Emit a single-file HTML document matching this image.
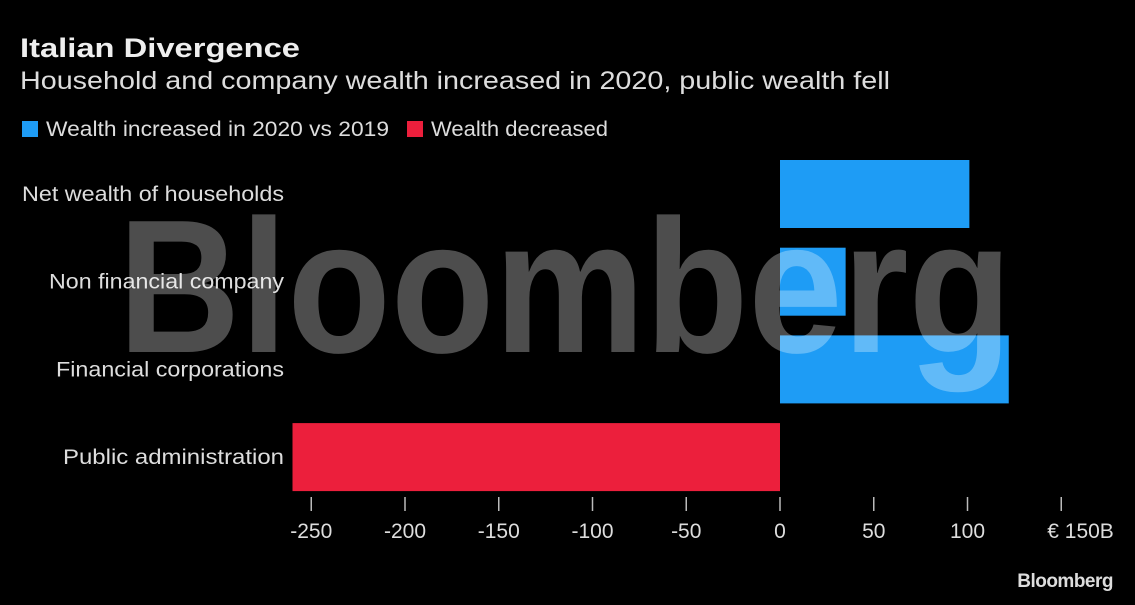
<!DOCTYPE html>
<html><head><meta charset="utf-8"><style>
body{margin:0;background:#000;width:1135px;height:600px;overflow:hidden;font-family:"Liberation Sans",sans-serif;color:#ddd}
</style></head><body>
<svg width="1135" height="600" xmlns="http://www.w3.org/2000/svg">
<text x="20" y="57" font-size="27" font-weight="bold" fill="#eee" textLength="280" lengthAdjust="spacingAndGlyphs">Italian Divergence</text>
<text x="20" y="89" font-size="25" fill="#ddd" textLength="870" lengthAdjust="spacingAndGlyphs">Household and company wealth increased in 2020, public wealth fell</text>
<rect x="22" y="121" width="16" height="16" fill="#1e9cf5"/>
<text x="46" y="136" font-size="21" fill="#ddd" textLength="343" lengthAdjust="spacingAndGlyphs">Wealth increased in 2020 vs 2019</text>
<rect x="407" y="121" width="16" height="16" fill="#ec1f3c"/>
<text x="431" y="136" font-size="21" fill="#ddd" textLength="177" lengthAdjust="spacingAndGlyphs">Wealth decreased</text>
<g id="bars"></g>
<g id="axis"></g>
<text x="118" y="352" font-size="190" font-weight="bold" fill="rgba(255,255,255,0.3)" textLength="894" lengthAdjust="spacingAndGlyphs">Bloomberg</text>
<text x="1113" y="587" font-size="19" font-weight="bold" fill="#ddd" text-anchor="end" letter-spacing="-0.5">Bloomberg</text>
</svg>
<script>
const categories=["Net wealth of households","Non financial company","Financial corporations","Public administration"];
const values=[101,35,122,-260];
const ticks=[-250,-200,-150,-100,-50,0,50,100,150];
const tickLabels=["-250","-200","-150","-100","-50","0","50","100","€ 150B"];
const labelWidths=[262,235,228,221];
const NS="http://www.w3.org/2000/svg";
const x=v=>780+v*1.875;
const yTop=i=>160+i*87.7;
const bh=68;
const bars=document.getElementById('bars'),axis=document.getElementById('axis');
categories.forEach((c,i)=>{
 const v=values[i];
 const r=document.createElementNS(NS,'rect');
 r.setAttribute('x',Math.min(x(0),x(v)));r.setAttribute('y',yTop(i));
 r.setAttribute('width',Math.abs(x(v)-x(0)));r.setAttribute('height',bh);
 r.setAttribute('fill',v>=0?'#1e9cf5':'#ec1f3c');
 
 
 bars.appendChild(r);
 const t=document.createElementNS(NS,'text');
 t.setAttribute('x',284-labelWidths[i]);t.setAttribute('y',yTop(i)+bh/2+7);
 t.setAttribute('textLength',labelWidths[i]);t.setAttribute('lengthAdjust','spacingAndGlyphs');
 t.setAttribute('font-size','21');t.setAttribute('fill','#ddd');
 t.textContent=c;
 
 
 bars.appendChild(t);
});
ticks.forEach((v,i)=>{
 const l=document.createElementNS(NS,'line');
 l.setAttribute('x1',x(v));l.setAttribute('x2',x(v));l.setAttribute('y1',497);l.setAttribute('y2',511);
 l.setAttribute('stroke','#bbb');l.setAttribute('stroke-width','1.5');
 
 
 axis.appendChild(l);
 const t=document.createElementNS(NS,'text');
 t.setAttribute('x',x(v)+(i===ticks.length-1?-14:0));t.setAttribute('y',538);
 t.setAttribute('text-anchor',i===ticks.length-1?'start':'middle');
 t.setAttribute('font-size','21');t.setAttribute('fill','#ddd');
 t.textContent=tickLabels[i];
 
 
 axis.appendChild(t);
});
</script>
</body></html>
